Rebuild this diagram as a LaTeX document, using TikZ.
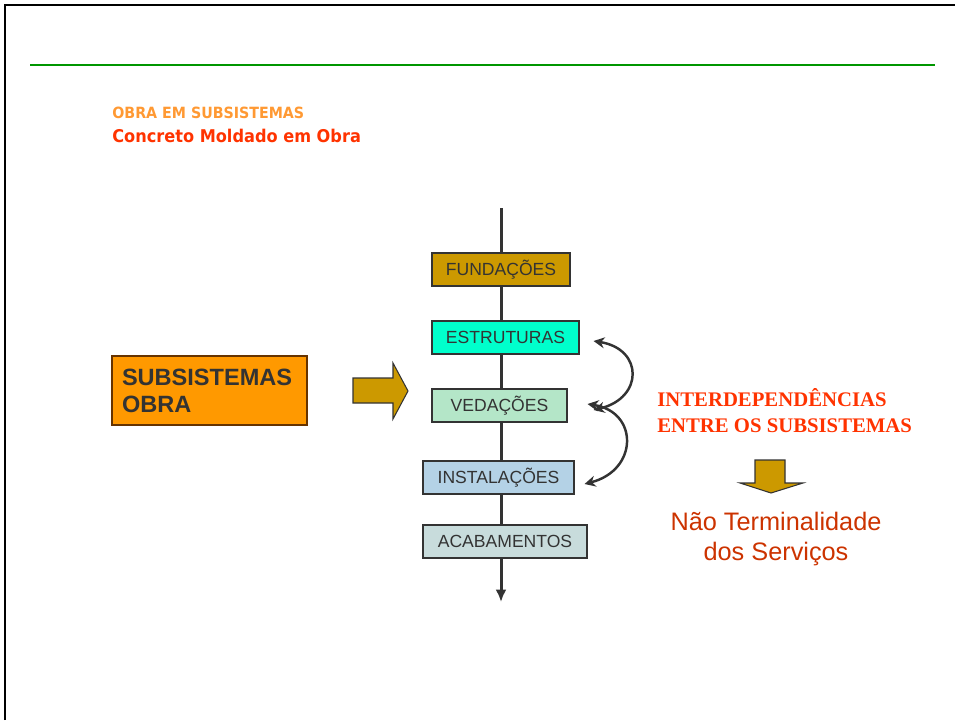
\documentclass[tikz,border=0pt]{standalone}
\usepackage{fontspec}
\setmainfont{Liberation Sans}
\newfontfamily\headfont[FakeStretch=0.92]{DejaVu Sans}
\newfontfamily\romanfont{Liberation Serif}
\definecolor{obText}{RGB}{51,51,51}
\definecolor{obGreen}{RGB}{0,150,0}
\definecolor{obTitle}{RGB}{255,153,51}
\definecolor{obRed}{RGB}{255,51,0}
\definecolor{obBrick}{RGB}{204,51,0}
\definecolor{obOrange}{RGB}{255,153,0}
\definecolor{obBrown}{RGB}{102,51,0}
\definecolor{obGold}{RGB}{204,153,0}
\definecolor{obEstr}{RGB}{0,255,204}
\definecolor{obVed}{RGB}{180,230,200}
\definecolor{obInst}{RGB}{180,210,230}
\definecolor{obAcab}{RGB}{200,220,220}
\usetikzlibrary{arrows.meta}

\begin{document}
\begin{tikzpicture}[x=0.02cm,y=-0.02cm,
    stagebox/.style={draw=obText, line width=0.6pt, minimum height=0.66cm, inner sep=0pt,
        text=obText, font=\fontsize{10pt}{12pt}\selectfont},
    blockarrow/.style={fill=obGold, draw=obText, line width=0.6pt},
    linkarrow/.style={{Stealth[length=2.2mm,width=2.2mm]}-{Stealth[length=2.2mm,width=2.2mm]},
        line width=1.4pt, draw=obText}]
    \useasboundingbox (0,0) rectangle (955,720);

    % slide frame and rule
    \draw[line width=1.2pt] (5,720) -- (5,5) -- (955,5);
    \draw[obGreen, line width=1.2pt] (30,65) -- (935,65);

    % titles
    \node[anchor=base west, inner sep=0pt, text=obTitle, font=\headfont\bfseries\fontsize{8.8pt}{10pt}\selectfont]
        (sub) at (112,118) {OBRA EM SUBSISTEMAS};
    \node[anchor=base west, inner sep=0pt, text=obRed, font=\headfont\bfseries\fontsize{10pt}{12pt}\selectfont]
        (main) at (112,142) {Concreto Moldado em Obra};

    % trunk line behind the stages
    \coordinate (top) at (501,208);
    \coordinate (bot) at (501,602);
    \draw[-{Latex[length=2.5mm,width=2.2mm]}, line width=1.7pt, obText] (top) -- (bot);

    % stages
    \node[stagebox, fill=obGold, minimum width=2.76cm] (fund) at (501,269.5) {FUNDAÇÕES};
    \node[stagebox, fill=obEstr, minimum width=2.94cm] (estr) at (505.5,337.5) {ESTRUTURAS};
    \node[stagebox, fill=obVed,  minimum width=2.70cm] (ved)  at (499.5,405.5) {VEDAÇÕES};
    \node[stagebox, fill=obInst, minimum width=3.02cm] (inst) at (498.5,477.5) {INSTALAÇÕES};
    \node[stagebox, fill=obAcab, minimum width=3.28cm] (acab) at (505,541.5) {ACABAMENTOS};

    % left box and block arrow
    \node[draw=obBrown, line width=0.9pt, fill=obOrange, minimum width=3.9cm, minimum height=1.38cm,
        text width=3.5cm, inner xsep=0.2cm, align=left, text=obText,
        font=\bfseries\fontsize{13.4pt}{15.3pt}\selectfont] (obra) at (209.5,390.5) {SUBSISTEMAS\\OBRA};
    \draw[blockarrow] (353,378) -- (393,378) -- (393,363) -- (408,391) -- (393,419) -- (393,403) -- (353,403) -- cycle;

    % interdependence arrows
    \draw[linkarrow] ([xshift=0.28cm,yshift=-0.07cm]estr.east) .. controls +(50,8) and +(50,-12) .. ([xshift=0.52cm,yshift=-0.09cm]ved.east);
    \draw[linkarrow] ([xshift=0.40cm,yshift=0.03cm]ved.east) .. controls +(51,8) and +(54,-14) .. ([xshift=0.20cm,yshift=-0.13cm]inst.east);

    % right side notes
    \node[anchor=base west, inner sep=0pt, align=left, text=obRed,
        font=\romanfont\bfseries\fontsize{11.8pt}{14.8pt}\selectfont]
        (inter) at (657,432) {INTERDEPENDÊNCIAS\\ENTRE OS SUBSISTEMAS};
    \draw[blockarrow] (755,460) -- (785,460) -- (785,483) -- (803,483) -- (771,493) -- (740,483) -- (755,483) -- cycle;
    \node[anchor=base, inner sep=0pt, align=center, text=obBrick,
        font=\fontsize{14.4pt}{17pt}\selectfont]
        (term) at (776,560) {Não Terminalidade\\dos Serviços};
\end{tikzpicture}
\end{document}
